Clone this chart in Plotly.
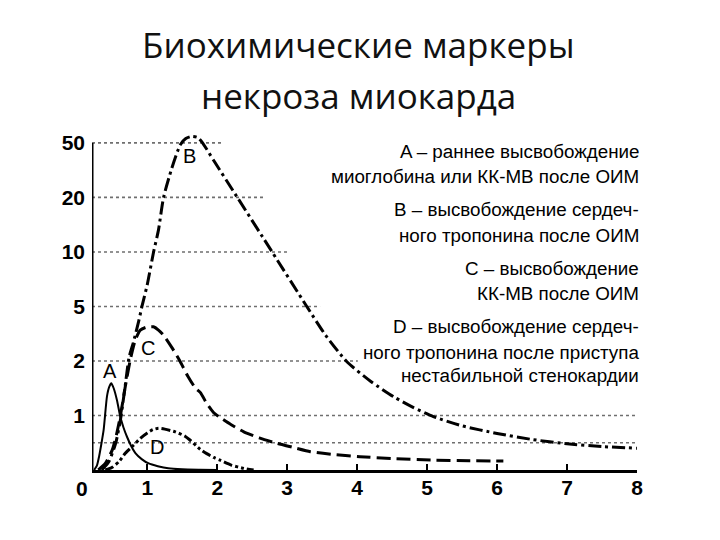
import numpy as np
import plotly.graph_objects as go

# ---- data ----
Y_LEVELS = [0, 1, 2, 5, 10, 20, 50, 100]
Y_TICK_VALUES = [1, 2, 5, 10, 20, 50]
Y_TICK_LABELS = ["1", "2", "5", "10", "20", "50"]
X_TICKS = [1, 2, 3, 4, 5, 6, 7, 8]

a_x = [0.24, 0.28, 0.31, 0.34, 0.376, 0.424, 0.455, 0.486, 0.52, 0.567, 0.614, 0.66, 0.71, 0.77, 0.83,
       0.92, 1.02, 1.15, 1.30, 1.5, 1.75, 2.0]
a_y = [0, 0.08, 0.24, 0.45, 0.73, 1.35, 1.52, 1.59, 1.5, 1.28, 0.98, 0.78, 0.61, 0.44, 0.31,
       0.2, 0.12, 0.07, 0.03, 0.012, 0.004, 0]

b_x = [0.35, 0.45, 0.55, 0.62, 0.68, 0.74, 0.8, 0.876, 0.924, 1.0, 1.09, 1.16, 1.233, 1.35, 1.47,
       1.55, 1.64, 1.72, 1.78, 1.95, 2.28, 2.78, 3.28, 3.55, 3.85, 4.2, 4.52,
       4.8, 5.09, 5.5, 6.0, 6.5, 7.0, 7.5, 8.0]
b_y = [0, 0.15, 0.5, 0.95, 1.5, 2.2, 3.0, 4.16, 5.0, 7.0, 10, 14, 20, 36, 48.8,
       54, 56, 55, 51, 40.3, 20.45, 10.1, 5.0, 3.41, 1.99, 1.62, 1.345,
       1.15, 0.98, 0.81, 0.67, 0.56, 0.48, 0.43, 0.40]

c_x = [0.30, 0.40, 0.50, 0.56, 0.614, 0.686, 0.757, 0.83, 0.9, 0.98, 1.09, 1.16, 1.23, 1.35, 1.47,
       1.58, 1.69, 1.76, 1.85, 1.95, 2.02, 2.2, 2.38, 2.6, 2.85, 3.1, 3.33, 3.7, 4.04, 4.5, 5.1,
       5.6, 6.09]
c_y = [0, 0.12, 0.37, 0.65, 0.98, 1.53, 2.06, 3.16, 3.7, 3.85, 3.88, 3.7, 3.43, 2.75, 1.99,
       1.72, 1.5, 1.42, 1.22, 1.05, 0.98, 0.83, 0.70, 0.59, 0.49, 0.41, 0.336, 0.28, 0.245, 0.21, 0.18,
       0.17, 0.165]

d_x = [0.40, 0.5, 0.6, 0.686, 0.8, 0.9, 1.0, 1.08, 1.16, 1.25, 1.4, 1.54, 1.61, 1.757, 1.85,
       1.95, 2.04, 2.2, 2.38, 2.52]
d_y = [0, 0.05, 0.16, 0.306, 0.45, 0.58, 0.68, 0.74, 0.765, 0.75, 0.7, 0.62, 0.55, 0.38, 0.3,
       0.23, 0.18, 0.09, 0.03, 0]

curve_names = ["A", "B", "C", "D"]
curve_label_x = [0.47, 1.61, 1.01, 1.14]
curve_label_y = [1.82, 43, 2.72, 0.42]

grid_values = [0.5, 1, 2, 5, 10, 20, 50]
grid_ends = [8.0, 8.0, 4.01, 3.47, 3.01, 2.66, 2.09]

legend_lines = [
    "A – раннее высвобождение",
    "миоглобина или КК-МВ после ОИМ",
    "B – высвобождение сердеч-",
    "ного тропонина после ОИМ",
    "C – высвобождение",
    "КК-МВ после ОИМ",
    "D – высвобождение сердеч-",
    "ного тропонина после приступа",
    "нестабильной стенокардии",
]
legend_px_y = [151, 176, 209, 235, 268, 293, 326, 352, 375]

title_lines = ["Биохимические маркеры", "некроза миокарда"]
title_px_y = [45, 95]

# ---- geometry (page pixels; the page body adds an 8px offset) ----
OFF = 8
W, H = 720, 540
PLOT_L, PLOT_R = 92 - OFF, 637 - OFF
PLOT_T, PLOT_B = 132 - OFF, 470 - OFF
PW, PH = PLOT_R - PLOT_L, PLOT_B - PLOT_T


def px(xp):
    return (xp - OFF - PLOT_L) / PW


def py(yp):
    return (PLOT_B - (yp - OFF)) / PH


IDX = np.arange(len(Y_LEVELS))


def to_idx(v):
    return np.interp(np.asarray(v, dtype=float), Y_LEVELS, IDX)


X0 = 0.21
Y_TOP = 6.2

SANS = "Liberation Sans, Arial, sans-serif"

fig = go.Figure()

styles = {
    "A": dict(width=2, dash="solid"),
    "B": dict(width=3, dash="13px,4px,3px,4px"),
    "C": dict(width=3, dash="14px,6px"),
    "D": dict(width=3, dash="9px,3px,3px,3px,3px,3px"),
}
series = {"A": (a_x, a_y), "B": (b_x, b_y), "C": (c_x, c_y), "D": (d_x, d_y)}
for name in curve_names:
    xs, ys = series[name]
    fig.add_trace(go.Scatter(
        x=xs, y=to_idx(ys), mode="lines", name=name,
        line=dict(color="black", shape="spline", smoothing=0.6, **styles[name]),
        showlegend=False, hoverinfo="skip",
    ))

# dotted grid lines
for gv, ge in zip(grid_values, grid_ends):
    yy = float(to_idx(gv))
    fig.add_shape(type="line", x0=X0, x1=ge, y0=yy, y1=yy, xref="x", yref="y",
                  line=dict(color="#6f6f6f", width=1.6, dash="dot"), layer="below")

# y axis line
fig.add_shape(type="line", x0=X0, x1=X0, y0=0, y1=6, xref="x", yref="y",
              line=dict(color="black", width=3))

# curve labels
for nm, lx, ly in zip(curve_names, curve_label_x, curve_label_y):
    fig.add_annotation(x=lx, y=float(to_idx(ly)), text=nm, showarrow=False,
                       xanchor="center", yanchor="middle",
                       font=dict(family=SANS, size=20, color="black"))

# legend text
for line, yp in zip(legend_lines, legend_px_y):
    fig.add_annotation(x=px(641), y=py(yp), xref="paper", yref="paper",
                       text=line, showarrow=False, xanchor="right", yanchor="middle",
                       font=dict(family=SANS, size=18.8, color="black"))

# title
for line, yp in zip(title_lines, title_px_y):
    fig.add_annotation(x=px(358), y=py(yp), xref="paper", yref="paper",
                       text=line, showarrow=False, xanchor="center", yanchor="middle",
                       font=dict(family="Open Sans, Noto Sans, sans-serif", size=35, color="#111111"))

# origin label
fig.add_annotation(x=px(82), y=py(488), xref="paper", yref="paper", text="<b>0</b>",
                   showarrow=False, xanchor="center", yanchor="middle",
                   font=dict(family=SANS, size=21, color="black"))

fig.update_layout(
    width=W, height=H,
    margin=dict(l=PLOT_L, r=W - PLOT_R, t=PLOT_T, b=H - PLOT_B),
    paper_bgcolor="white", plot_bgcolor="white",
    xaxis=dict(range=[X0, 8.0], tickvals=X_TICKS, ticktext=[f"<b>{t}</b>" for t in X_TICKS],
               showgrid=False, zeroline=False, showline=True, linecolor="black", linewidth=3,
               ticks="inside", ticklen=6, tickwidth=2, tickcolor="black",
               ticklabelstandoff=-3,
               tickfont=dict(family=SANS, size=21, color="black")),
    yaxis=dict(range=[0, Y_TOP], tickvals=[float(to_idx(v)) for v in Y_TICK_VALUES],
               ticktext=[f"<b>{t}</b>" for t in Y_TICK_LABELS],
               showgrid=False, zeroline=False, showline=False, ticks="",
               ticklabelstandoff=6,
               tickfont=dict(family=SANS, size=21, color="black")),
)

fig.write_html("out.html")
